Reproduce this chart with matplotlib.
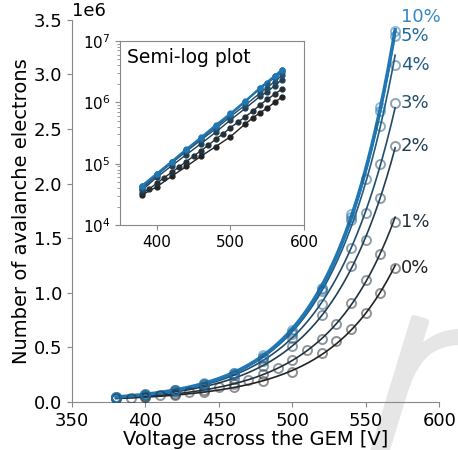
import numpy as np
import matplotlib
matplotlib.use('Agg')
import matplotlib.pyplot as plt
import matplotlib.patheffects as pe
from matplotlib.colors import to_rgb

# argon / CO2 mixture labels
labels = ['0%', '1%', '2%', '3%', '4%', '5%', '10%']

v_0 = [380, 400, 420, 440, 460, 480, 500, 520, 530, 540, 550, 560, 570]
n_0 = [0.031, 0.042, 0.062, 0.090, 0.132, 0.190, 0.275, 0.444, 0.555, 0.670, 0.810, 0.995, 1.224]

v_1 = [380, 390, 400, 410, 420, 430, 440, 450, 460, 470,
       480, 490, 500, 510, 520, 530, 540, 550, 560, 570]
n_1 = [0.033, 0.039, 0.048, 0.059, 0.072, 0.088, 0.108, 0.133, 0.163, 0.200,
       0.252, 0.306, 0.386, 0.474, 0.580, 0.713, 0.903, 1.117, 1.355, 1.650]

v_2 = [380, 400, 420, 440, 460, 480, 500, 520, 540, 550, 560, 570]
n_2 = [0.037, 0.060, 0.092, 0.140, 0.212, 0.325, 0.515, 0.795, 1.245, 1.480, 1.870, 2.340]

v_3 = [380, 400, 420, 440, 460, 480, 500, 520, 540, 550, 560, 570]
n_3 = [0.039, 0.065, 0.102, 0.158, 0.243, 0.370, 0.585, 0.900, 1.407, 1.730, 2.180, 2.740]

v_4 = [380, 400, 420, 440, 460, 480, 500, 520, 540, 550, 560, 570]
n_4 = [0.041, 0.067, 0.105, 0.165, 0.255, 0.400, 0.625, 1.020, 1.665, 2.040, 2.530, 3.090]

v_5 = [380, 400, 420, 440, 460, 480, 500, 520, 540, 560, 570]
n_5 = [0.043, 0.068, 0.107, 0.168, 0.262, 0.410, 0.640, 1.030, 1.690, 2.660, 3.355]

v_10 = [380, 400, 420, 440, 460, 480, 500, 520, 540, 560, 570]
n_10 = [0.044, 0.069, 0.108, 0.172, 0.268, 0.425, 0.658, 1.045, 1.720, 2.700, 3.400]

volts = [v_0, v_1, v_2, v_3, v_4, v_5, v_10]
counts = [n_0, n_1, n_2, n_3, n_4, n_5, n_10]

## cores: do preto ao azul
c0 = np.array(to_rgb('#222222'))
c1 = np.array(to_rgb('#1f77b4'))
cores = [tuple(c0 + (c1 - c0) * i / 6) for i in range(7)]

fig = plt.figure(figsize=(4.58, 4.5), dpi=100)
# marca d'agua ao fundo
wm = fig.text(0.728, -0.031, 'r', rotation=-17, fontsize=215, fontweight=200,
              color='#e6e6e6', ha='left', va='baseline', rotation_mode='anchor', zorder=-1)
wm.set_path_effects([pe.withStroke(linewidth=4, foreground='#e6e6e6')])

ax = fig.add_axes([0.157, 0.107, 0.802, 0.849])
ax.set_facecolor('none')

for i in range(7):
    x = np.array(volts[i], dtype=float)
    y = np.array(counts[i]) * 1e6
    # ajuste exponencial (log quadratico) so para a curva
    p = np.polyfit(x, np.log(y), 2)
    xf = np.linspace(x.min(), x.max(), 200)
    lw = 2.5 if labels[i] == '10%' else 1.2
    ax.plot(xf, np.exp(np.polyval(p, xf)), color=cores[i], lw=lw, zorder=2)
    ax.plot(x, y, 'o', mfc='none', mec=cores[i], ms=6.5, mew=1.4, alpha=0.5, zorder=3)
    ty = y[-1] + (0.13e6 if labels[i] == '10%' else 0)
    tc = '#3587c6' if labels[i] == '10%' else cores[i]
    ax.text(574, ty, labels[i], color=tc, fontsize=13, ha='left', va='center')

ax.set_xlim(350, 600)
ax.set_ylim(0, 3.5e6)
ax.set_xticks([350, 400, 450, 500, 550, 600])
ax.set_yticks(np.arange(0, 3.51e6, 0.5e6))
ax.ticklabel_format(axis='y', style='sci', scilimits=(6, 6))
ax.yaxis.get_offset_text().set_fontsize(13)
ax.tick_params(labelsize=13, color='#888888')
for s in ['top', 'right']:
    ax.spines[s].set_visible(False)
for s in ['left', 'bottom']:
    ax.spines[s].set_color('#888888')
ax.set_xlabel('Voltage across the GEM [V]', fontsize=14, labelpad=0)
ax.set_ylabel('Number of avalanche electrons', fontsize=14, labelpad=2)

## inset semi-log
axi = fig.add_axes([0.262, 0.5, 0.402, 0.409])
for i in range(7):
    x = np.array(volts[i], dtype=float)
    y = np.array(counts[i]) * 1e6
    lw = 1.5 if labels[i] == '10%' else 1.0
    axi.plot(x, y, '-o', color=cores[i], ms=3.5, lw=lw)
axi.set_yscale('log')
axi.set_xlim(350, 600)
axi.set_ylim(1e4, 1e7)
axi.set_xticks([400, 500, 600])
axi.tick_params(labelsize=11, color='#888888')
axi.tick_params(which='minor', color='#888888')
for s in axi.spines.values():
    s.set_color('#888888')
axi.text(0.04, 0.96, 'Semi-log plot', transform=axi.transAxes, fontsize=13.5,
         ha='left', va='top')

plt.savefig('out.png', dpi=100)
